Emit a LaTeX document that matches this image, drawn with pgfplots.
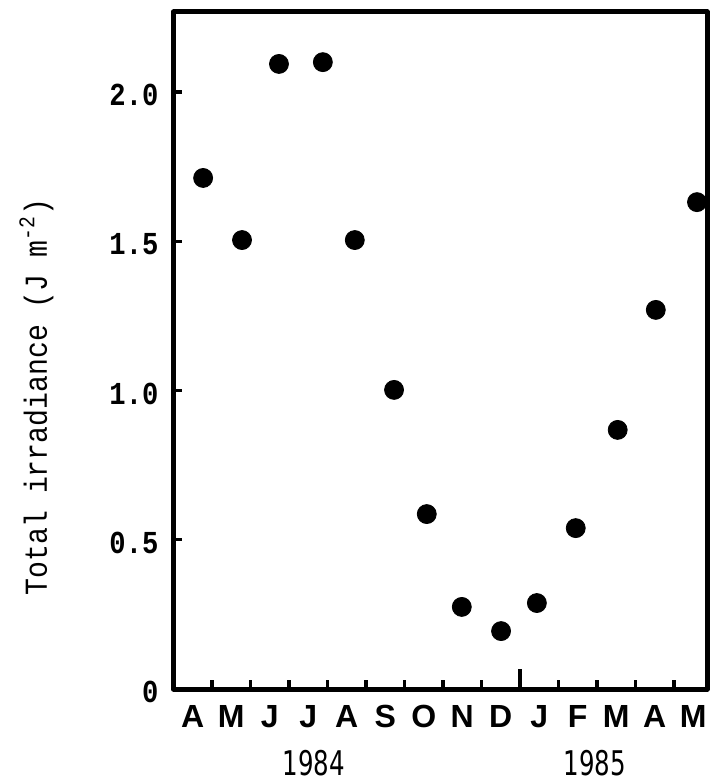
\documentclass[border=0pt]{standalone}
\usepackage{fontspec}
\usepackage{pgfplots}
\pgfplotsset{compat=1.18}
\setmainfont{Liberation Sans}
\setmonofont{Liberation Mono}
\newfontfamily\condfont{DejaVu Sans Condensed}
\newcommand{\tl}[1]{\scalebox{0.85}[1]{#1}}
\begin{document}
\begin{tikzpicture}
\begin{axis}[
  scale only axis, width=266.75pt, height=338.5pt,
  xmin=0, xmax=13.86, ymin=0, ymax=2.268,
  clip=false,
  axis line style={line width=2.5pt, line join=round},
  tick align=inside, xtick pos=bottom, ytick pos=left,
  major tick length=0pt, minor tick length=4.5pt,
  every tick/.style={black, line width=1.6pt},
  xtick={0.5,1.5,2.5,3.5,4.5,5.5,6.5,7.5,8.5,9.5,10.5,11.5,12.5,13.5},
  xticklabels={A,M,J,J,A,S,O,N,D,J,F,M,A,M},
  minor xtick={1,2,3,4,5,6,7,8,10,11,12,13},
  extra x ticks={9}, extra x tick labels={}, extra x tick style={major tick length=10pt},
  ytick={0,0.5,1,1.5,2},
  yticklabels={\tl{0},\tl{0.5},\tl{1.0},\tl{1.5},\tl{2.0}},
  minor ytick={0.5,1,1.5,2},
  xticklabel style={font=\bfseries\fontsize{16}{19}\selectfont, anchor=base, yshift=-19pt},
  yticklabel style={font=\ttfamily\bfseries\fontsize{16}{18}\selectfont, anchor=east, xshift=-4pt, yshift=-1.5pt},
]
\addplot[only marks, mark=*, mark size=4.75pt, black] coordinates {
  (0.77,1.712) (1.78,1.504) (2.74,2.094) (3.88,2.100) (4.71,1.504)
  (5.73,1.002) (6.58,0.586) (7.49,0.275) (8.51,0.194) (9.44,0.288)
  (10.45,0.539) (11.54,0.868) (12.53,1.270) (13.60,1.631)
};
\path (rel axis cs:0,0.431) ++(-68.5pt,0) node[rotate=90, font=\ttfamily\fontsize{16}{18}\selectfont] {\scalebox{0.88}[1]{Total irradiance (J m\textsuperscript{-2})}};
\node[font=\condfont\fontsize{17}{20}\selectfont] at (axis cs:3.65,0) [yshift=-37pt] {\scalebox{0.8}[1]{1984}};
\node[font=\condfont\fontsize{17}{20}\selectfont] at (axis cs:10.95,0) [yshift=-37pt] {\scalebox{0.8}[1]{1985}};
\end{axis}
\pgfresetboundingbox
\path[use as bounding box] ([xshift=-86.75pt,yshift=-46.5pt]current axis.south west) rectangle ([xshift=2pt,yshift=6pt]current axis.north east);
\end{tikzpicture}
\end{document}
